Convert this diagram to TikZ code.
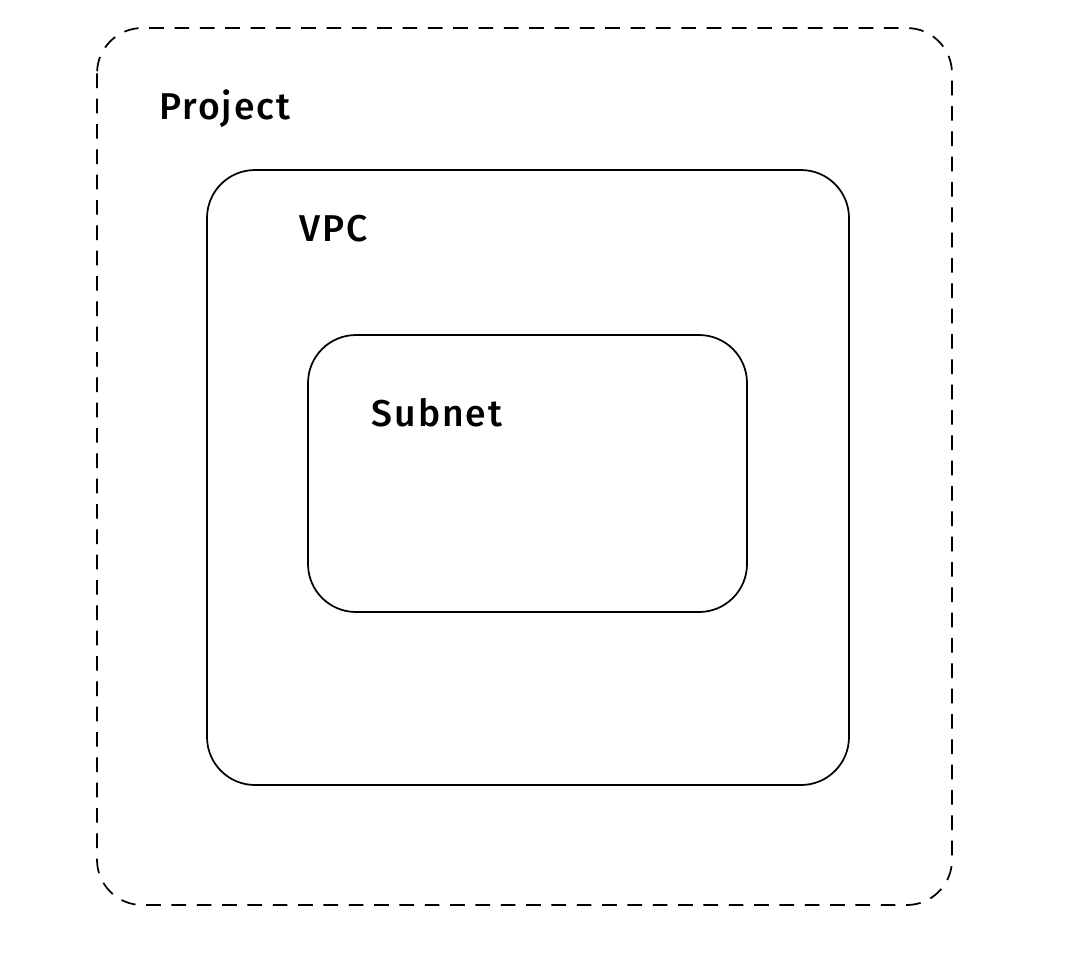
\documentclass[tikz,border=0pt]{standalone}
\usepackage{fontspec}
\setmainfont{Fira Sans}[BoldFont={Fira Sans Medium}]
\begin{document}
\begin{tikzpicture}[x=0.75pt,y=-0.75pt,
  box/.style={draw=black,line width=1.3pt,rounded corners=36pt},
  outerbox/.style={draw=black,line width=1.3pt,rounded corners=34pt,dash pattern=on 11pt off 8pt},
  lbl/.style={font=\fontsize{28}{32}\selectfont\bfseries\addfontfeature{LetterSpace=5},text=black,inner sep=0pt}]
\useasboundingbox[fill=white] (0,0) rectangle (1084,958);
\draw[outerbox] (97,28) rectangle (952,905);
\node[lbl] (project) at (225,109) {Project};
\draw[box] (207,170) rectangle (849,785);
\node[lbl] (vpc) at (334,229) {VPC};
\draw[box] (308,335) rectangle (747,612);
\node[lbl] (subnet) at (437,413) {Subnet};
\end{tikzpicture}
\end{document}
